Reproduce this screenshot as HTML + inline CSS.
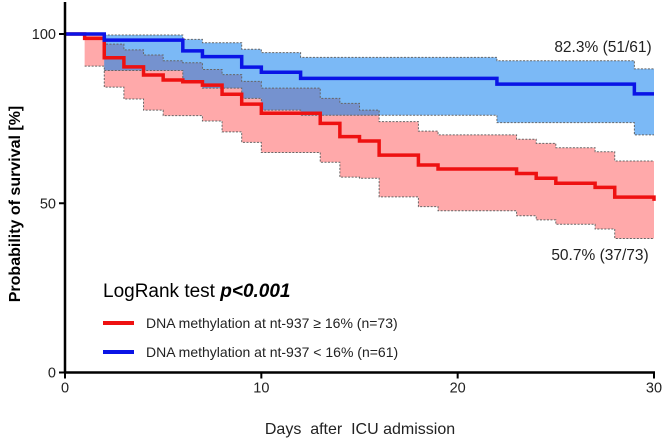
<!DOCTYPE html>
<html><head><meta charset="utf-8"><style>
body{margin:0;background:#fff;}
svg{display:block;font-family:"Liberation Sans",Arial,sans-serif;}
</style></head><body>
<svg id="chart" width="663" height="441" viewBox="0 0 663 441">
<defs><clipPath id="redclip"><path id="redClipPath" d=""/></clipPath></defs>
<g id="bands"></g>
<g id="lines"></g>
<g id="axes"></g>
<text x="603" y="52" font-size="15.5" text-anchor="middle" fill="#222">82.3% (51/61)</text>
<text x="600" y="260" font-size="15.5" text-anchor="middle" fill="#222">50.7% (37/73)</text>
<text x="103" y="297" font-size="19" fill="#000">LogRank test <tspan font-weight="bold" font-style="italic">p&lt;0.001</tspan></text>
<g>
<line x1="103" y1="323" x2="134" y2="323" stroke="#ee1111" stroke-width="4"/>
<text x="146" y="328" font-size="14" fill="#222">DNA methylation at nt-937 ≥ 16% (n=73)</text>
<line x1="103" y1="352" x2="134" y2="352" stroke="#0a14e6" stroke-width="4"/>
<text x="146" y="357" font-size="14" fill="#222">DNA methylation at nt-937 &lt; 16% (n=61)</text>
</g>
<text x="20" y="204" font-size="16" font-weight="bold" text-anchor="middle" transform="rotate(-90 20 204)">Probability of survival [%]</text>
<text x="360" y="434" font-size="16" text-anchor="middle" fill="#222" xml:space="preserve">Days  after  ICU admission</text>
</svg>
<script>
const blueTimes=[0,2,6,7,9,10,12,22,29,30];
const blueSurv=[100,98.2,95,93.3,90.2,88.7,86.9,85.2,82.3,82.3];
const blueUpper=[100,99.7,98.4,97.4,95.5,94.5,93.1,92.1,89.7,89.7];
const blueLower=[100,89.2,86,84,81,77.5,76,73.8,70.2,70.2];
const redTimes=[0,1,2,3,4,5,6,7,8,9,10,13,14,15,16,18,19,23,24,25,27,28,30];
const redSurv=[100,98.7,93.0,90.3,87.9,86.4,85.9,84.9,82.2,79.3,76.6,73.6,69.7,68.4,64.2,61.3,60.1,58.8,57.4,55.9,54.7,51.8,50.7];
const redUpper=[100,100,97.0,95.3,93.8,92.1,91.5,89.5,88,86,84,81,79.5,77.5,74.1,71.3,70.2,68.9,67.7,66.4,65.2,62.5,62.5];
const redLower=[100,90.5,84.3,80.8,77.5,75.9,75.9,74.3,71.1,68,65,62.1,57.7,57.4,51.9,49.0,47.8,46.3,45.1,43.8,42.4,39.6,39.6];
const xTicks=[0,10,20,30];
const yTicks=[0,50,100];
const X0=65,X1=654,Y0=372.5,Y100=34;
const sx=d=>X0+(X1-X0)*d/30;
const sy=p=>Y0-(Y0-Y100)*p/100;
const NS="http://www.w3.org/2000/svg";
function stepPts(t,v,start){let pts=[];for(let i=start;i<t.length;i++){if(i>start)pts.push([sx(t[i]),sy(v[i-1])]);pts.push([sx(t[i]),sy(v[i])]);}return pts;}
function band(t,u,l,start){const up=stepPts(t,u,start),lo=stepPts(t,l,start).reverse();return "M"+up.concat(lo).map(p=>p.join(",")).join("L")+"Z";}
function stepPath(t,v,start){return "M"+stepPts(t,v,start).map(p=>p.join(",")).join("L");}
function mk(tag,parent,attrs){const e=document.createElementNS(NS,tag);for(const k in attrs)e.setAttribute(k,attrs[k]);parent.appendChild(e);return e;}
const bands=document.getElementById('bands'),lines=document.getElementById('lines'),axes=document.getElementById('axes');
const redBand=band(redTimes,redUpper,redLower,1),blueBand=band(blueTimes,blueUpper,blueLower,1);
document.getElementById('redClipPath').setAttribute('d',redBand);
let e;
e=mk('path',bands,{d:redBand,fill:'#ffa9aa'});


e=mk('path',bands,{d:blueBand,fill:'#7bb9f6'});


e=mk('path',bands,{d:blueBand,fill:'#7592cf','clip-path':'url(#redclip)'});


[[redTimes,redUpper,'red-upper-ci'],[redTimes,redLower,'red-lower-ci'],[blueTimes,blueUpper,'blue-upper-ci'],[blueTimes,blueLower,'blue-lower-ci']].forEach(a=>{
e=mk('path',bands,{d:stepPath(a[0],a[1],1),fill:'none',stroke:'#666','stroke-width':1,'stroke-dasharray':'2,1.5'});


});
e=mk('path',lines,{d:stepPath(redTimes,redSurv,0),fill:'none',stroke:'#ee1111','stroke-width':3.5});


e=mk('path',lines,{d:stepPath(blueTimes,blueSurv,0),fill:'none',stroke:'#0a14e6','stroke-width':3.5});


e=mk('line',axes,{x1:X0,y1:2,x2:X0,y2:Y0+1,stroke:'#000','stroke-width':2.5});


e=mk('line',axes,{x1:X0-1,y1:Y0,x2:X1+1,y2:Y0,stroke:'#000','stroke-width':2.5});


yTicks.forEach(v=>{
e=mk('line',axes,{x1:X0-6,y1:sy(v),x2:X0,y2:sy(v),stroke:'#000','stroke-width':2});


e=mk('text',axes,{x:X0-9,y:sy(v)+5,'font-size':14.5,'text-anchor':'end',fill:'#222'});e.textContent=v;


});
xTicks.forEach(v=>{
e=mk('line',axes,{x1:sx(v),y1:Y0,x2:sx(v),y2:Y0+6,stroke:'#000','stroke-width':2});


e=mk('text',axes,{x:sx(v),y:Y0+20,'font-size':14.5,'text-anchor':'middle',fill:'#222'});e.textContent=v;


});
</script>
</body></html>
